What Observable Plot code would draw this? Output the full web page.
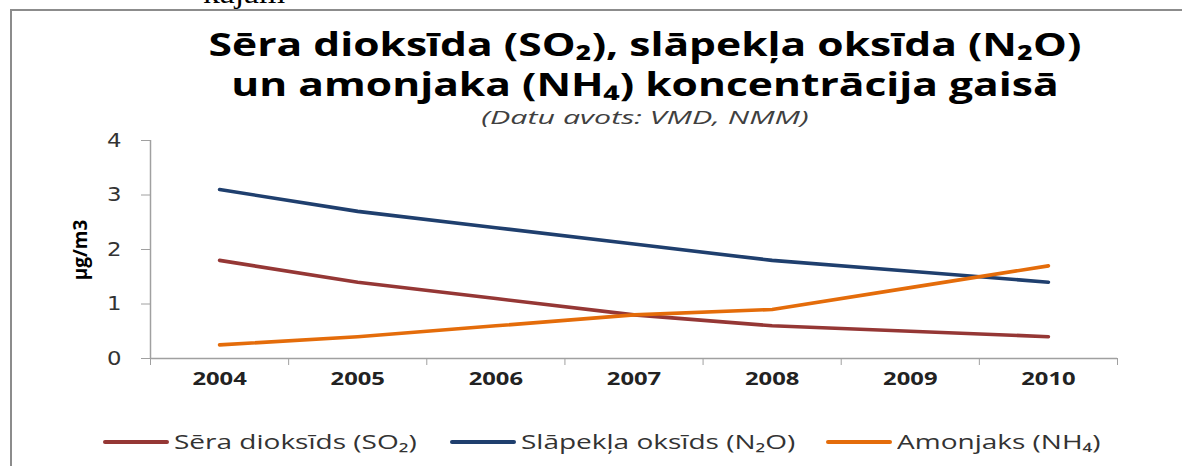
<!DOCTYPE html>
<html>
<head>
<meta charset="utf-8">
<script src="https://cdn.jsdelivr.net/npm/d3@7"></script>
<script src="https://cdn.jsdelivr.net/npm/@observablehq/plot@0.6"></script>
<style>
  html, body { margin: 0; padding: 0; background: #fff; overflow: hidden; }
  #wrap { position: relative; width: 1182px; height: 466px; overflow: hidden; font-family: "Open Sans", sans-serif; }
  #frame { position: absolute; left: 10px; top: 9px; width: 1300px; height: 600px; border-left: 2px solid #8c8c8c; border-top: 2px solid #8c8c8c; }
  #above { position: absolute; left: 203px; top: -24px; font-family: "Liberation Serif", serif; font-size: 30px; color: #000; transform: scaleX(1.12); transform-origin: left center; }
  #title { position: absolute; left: 0; width: 1290px; top: 24px; text-align: center; font-weight: 700; font-size: 32px; line-height: 40px; color: #000; transform: scaleX(1.33); transform-origin: center center; }
  #subtitle { position: absolute; left: 0; width: 1290px; top: 104px; text-align: center; font-style: italic; font-size: 19px; color: #404040; transform: scaleX(1.6); transform-origin: center center; }
  #ylabel { position: absolute; left: 80px; top: 250px; transform: translate(-50%, -50%) rotate(-90deg); font-weight: 700; font-size: 19px; color: #000; white-space: nowrap; }
  #legend .item { position: absolute; top: 428px; display: flex; align-items: center; font-size: 20px; color: #333; white-space: nowrap; }
  #legend .sw { display: inline-block; width: 66px; height: 4px; margin-right: 5px; border-radius: 2px; }
  #legend .txt { display: inline-block; transform: scaleX(1.4); transform-origin: left center; }
  #chart { position: absolute; left: 0; top: 0; }
  #chart svg { background: transparent; }
  #chart g[aria-label="y-axis tick"] path, #chart g[aria-label="x-axis tick"] path { stroke: #a0a0a0; }
  #chart g[aria-label="y-axis tick label"] { fill: #333; }
  #chart g[aria-label="x-axis tick label"] { fill: #222; }
</style>
</head>
<body>
<div id="wrap">
  <div id="frame"></div>
  <div id="above">kājām</div>
  <div id="chart"></div>
  <div id="title">Sēra dioksīda (SO₂), slāpekļa oksīda (N₂O)<br>un amonjaka (NH₄) koncentrācija gaisā</div>
  <div id="subtitle">(Datu avots: VMD, NMM)</div>
  <div id="ylabel">µg/m3</div>
  <div id="legend"></div>
</div>
<script>
const years = [2004, 2005, 2006, 2007, 2008, 2009, 2010];
const seriesNames = ["Sēra dioksīds (SO₂)", "Slāpekļa oksīds (N₂O)", "Amonjaks (NH₄)"];
const seriesColors = ["#953735", "#1f3f6e", "#e46c0a"];
const so2 = [1.8, 1.4, 1.1, 0.8, 0.6, 0.5, 0.4];
const n2o = [3.1, 2.7, 2.4, 2.1, 1.8, 1.6, 1.4];
const nh4 = [0.25, 0.4, 0.6, 0.8, 0.9, 1.3, 1.7];
const yTicks = [0, 1, 2, 3, 4];
const legendLefts = [103, 450, 826];

const seriesValues = [so2, n2o, nh4];
const rows = [];
seriesNames.forEach((name, i) => {
  years.forEach((yr, j) => rows.push({series: name, year: yr, value: seriesValues[i][j]}));
});
const xMin = years[0] - 0.5, xMax = years[years.length - 1] + 0.5;
const boundaries = years.map(y => y - 0.5).concat([xMax]);

const chart = Plot.plot({
  width: 1182,
  height: 466,
  marginTop: 140,
  marginBottom: 108,
  marginLeft: 150,
  marginRight: 65,
  style: {background: "transparent"},
  x: {domain: [xMin, xMax], axis: null},
  y: {domain: [0, 4], axis: null},
  color: {domain: seriesNames, range: seriesColors},
  marks: [
    Plot.ruleX([xMin], {stroke: "#a0a0a0", strokeWidth: 1.5}),
    Plot.ruleY([0], {stroke: "#a0a0a0", strokeWidth: 1.5}),
    Plot.axisY({ticks: yTicks, label: null, tickSize: 9, tickPadding: 20, fontSize: 19, fontFamily: "DejaVu Sans", tickFormat: d => String(d)}),
    Plot.axisX({ticks: boundaries, label: null, tickSize: 7, tickFormat: () => ""}),
    Plot.axisX({ticks: years, label: null, tickSize: 0, tickPadding: 14, fontSize: 17, fontWeight: 700, fontFamily: "Open Sans", tickFormat: d => String(d)}),
    Plot.line(rows, {x: "year", y: "value", z: "series", stroke: "series", strokeWidth: 3.6, strokeLinecap: "round", strokeLinejoin: "round"})
  ]
});
document.getElementById("chart").appendChild(chart);

function stretch(selector, k) {
  chart.querySelectorAll(selector).forEach(t => {
    if (!t.textContent) return;
    const len = t.getComputedTextLength();
    t.setAttribute("textLength", (len * k).toFixed(1));
    t.setAttribute("lengthAdjust", "spacingAndGlyphs");
  });
}
stretch('g[aria-label="x-axis tick label"] text', 1.4);
stretch('g[aria-label="y-axis tick label"] text', 1.2);

const legend = document.getElementById("legend");
seriesNames.forEach((name, i) => {
  const item = document.createElement("div");
  item.className = "item";
  item.style.left = legendLefts[i] + "px";
  const sw = document.createElement("span");
  sw.className = "sw";
  sw.style.background = seriesColors[i];
  const t = document.createElement("span");
  t.className = "txt";
  t.textContent = name;
  item.appendChild(sw);
  item.appendChild(t);
  legend.appendChild(item);
});
</script>
</body>
</html>
